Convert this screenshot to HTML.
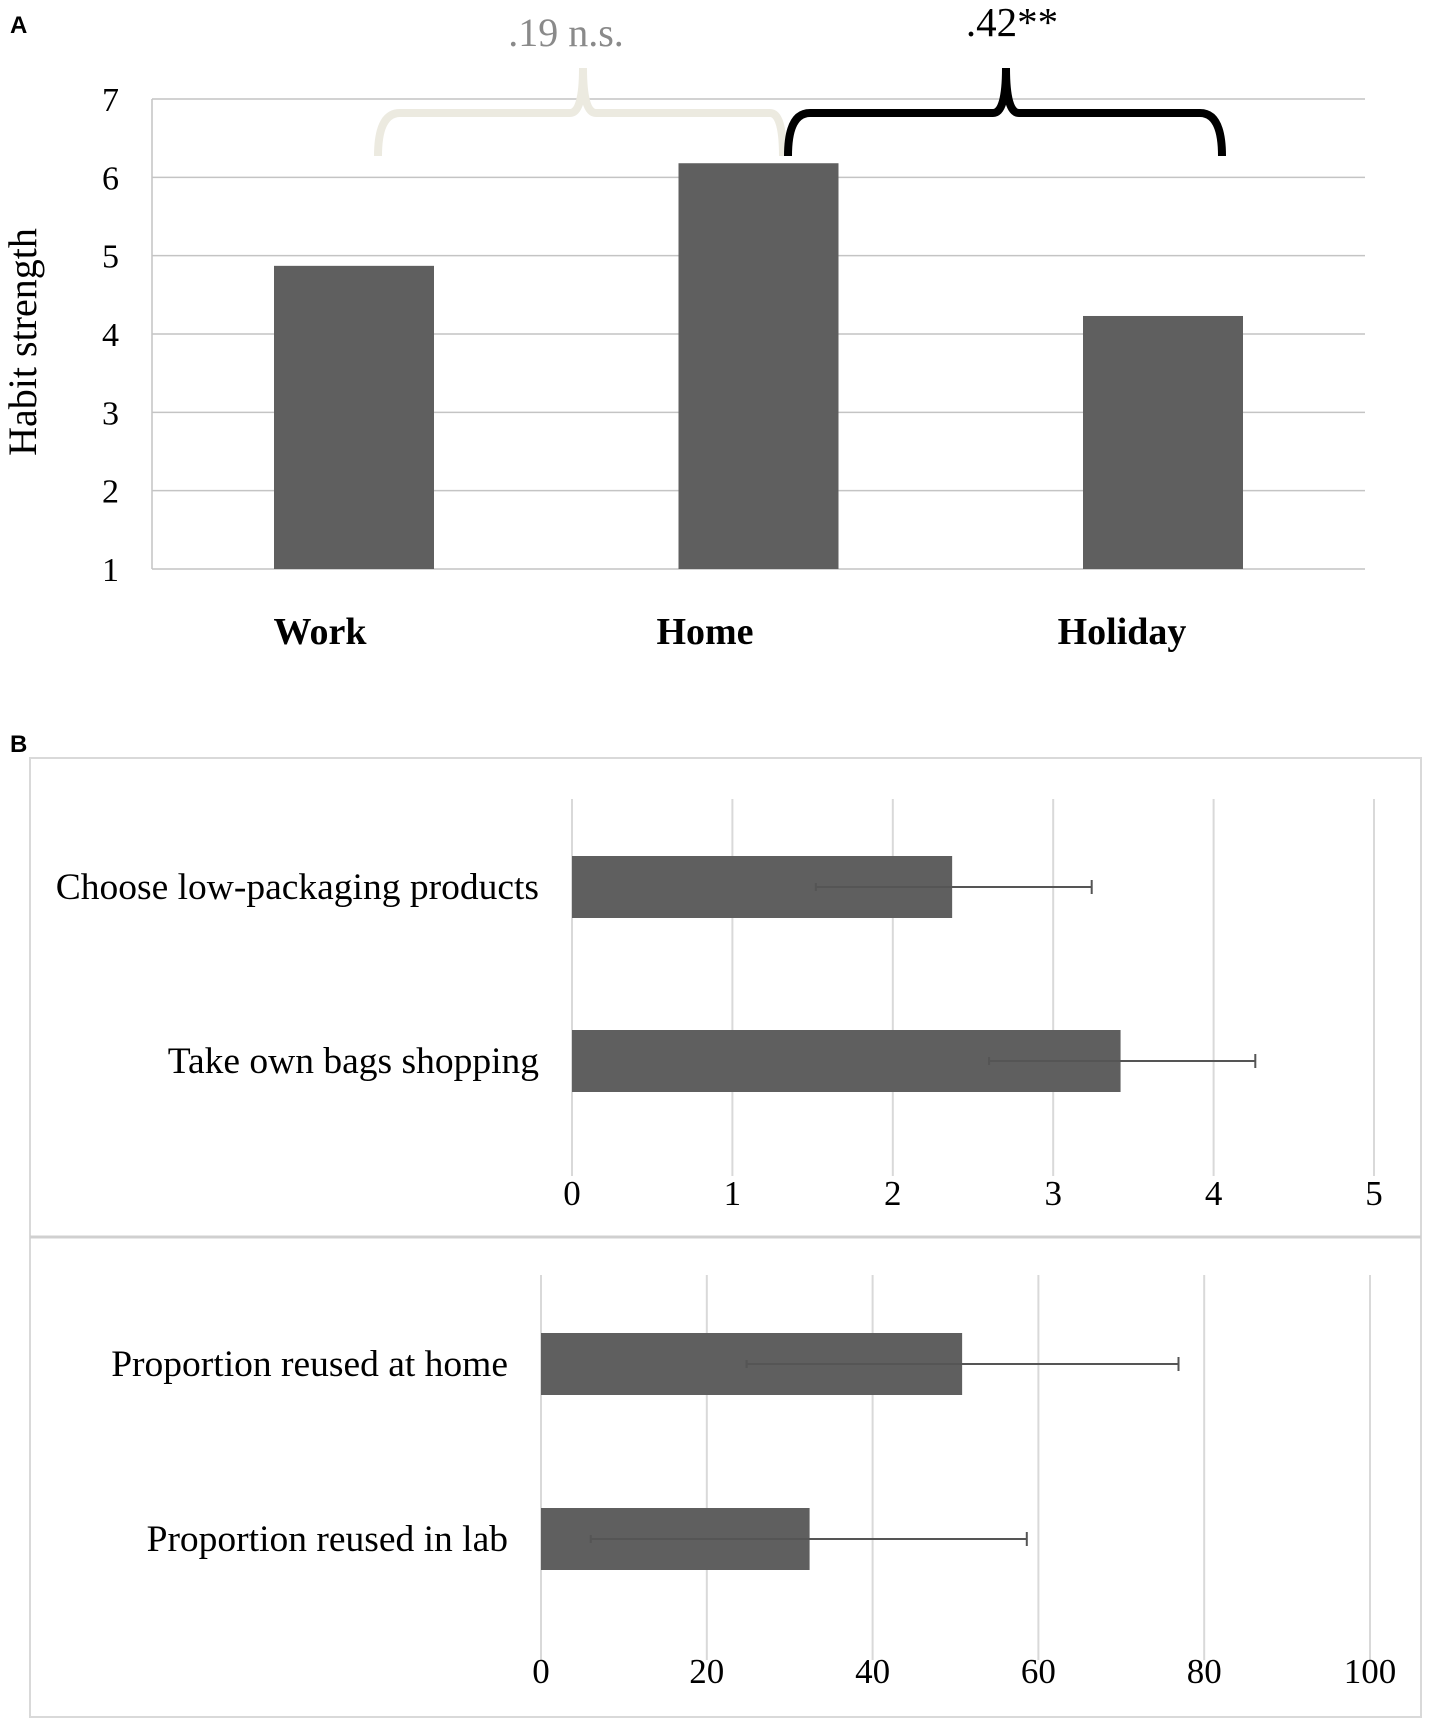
<!DOCTYPE html>
<html><head><meta charset="utf-8"><style>
body{margin:0;background:#fff}
svg{display:block}
text{font-family:"Liberation Serif",serif}
</style></head><body>
<svg id="s" width="1429" height="1723" viewBox="0 0 1429 1723">
<text x="10" y="33" font-weight="bold" font-size="24" style="font-family:'Liberation Sans',sans-serif">A</text>
<text x="10" y="752" font-size="24" font-weight="bold" style="font-family:'Liberation Sans',sans-serif">B</text>
<rect x="30" y="758" width="1391" height="959" fill="none" stroke="#d9d9d9" stroke-width="2"/>
<line x1="30" y1="1237" x2="1421" y2="1237" stroke="#d0d0d0" stroke-width="3"/>
<g id="ga"></g><g id="gb1"></g><g id="gb2"></g>
<path d="M378,156 Q378,113 400,113 L570,113 Q583,113 583,68 Q583,113 596,113 L770,113 Q783,113 783,156" fill="none" stroke="#eceae0" stroke-width="8"/>
<text x="566" y="46" text-anchor="middle" font-size="40" fill="#8a8a8a">.19 n.s.</text>
<path d="M788,156 Q788,113 810,113 L993,113 Q1006,113 1006,68 Q1006,113 1019,113 L1200,113 Q1222,113 1222,156" fill="none" stroke="#000" stroke-width="8"/>
<text x="1012" y="36" text-anchor="middle" font-size="41" fill="#000">.42**</text>
</svg>
<script>
const aCats=["Work","Home","Holiday"];
const aVals=[4.87,6.18,4.23];
const aTicks=[1,2,3,4,5,6,7];
const b1Cats=["Choose low-packaging products","Take own bags shopping"];
const b1Vals=[2.37,3.42];
const b1Lo=[1.52,2.6];
const b1Hi=[3.24,4.26];
const b1Ticks=[0,1,2,3,4,5];
const b2Cats=["Proportion reused at home","Proportion reused in lab"];
const b2Vals=[50.8,32.4];
const b2Lo=[24.8,6];
const b2Hi=[76.9,58.6];
const b2Ticks=[0,20,40,60,80,100];
const NS="http://www.w3.org/2000/svg";
function mk(p,t,a,txt){const e=document.createElementNS(NS,t);for(const k in a)e.setAttribute(k,a[k]);if(txt!==undefined)e.textContent=txt;p.appendChild(e);return e;}
// Panel A
const ga=document.getElementById('ga');
const ay=v=>569-(v-1)*(569-99)/6;
aTicks.forEach(t=>{
 const l=mk(ga,'line',{x1:152,x2:1365,y1:ay(t),y2:ay(t),stroke:'#c4c4c4','stroke-width':1.5});
 
 
 const tx=mk(ga,'text',{x:119,y:ay(t)+12,'text-anchor':'end','font-size':34},String(t));
 
 
});
const av=mk(ga,'line',{x1:152,x2:152,y1:99,y2:569,stroke:'#c4c4c4','stroke-width':1.5});


const yt=mk(ga,'text',{x:0,y:0,'text-anchor':'middle','font-size':40,transform:'translate(36,342) rotate(-90)'},'Habit strength');


const acx=i=>354+i*404.5;
const labCx=[320,705,1122];
aCats.forEach((c,i)=>{
 const r=mk(ga,'rect',{x:acx(i)-80,y:ay(aVals[i]),width:160,height:569-ay(aVals[i]),fill:'#5f5f5f'});
 
 
 const t=mk(ga,'text',{x:labCx[i],y:644,'text-anchor':'middle','font-size':38,'font-weight':'bold'},c);
 
 
});
// Panel B
function hbar(id,cats,vals,lo,hi,ticks,x0,x1,gy0,gy1,barYs,labX,tickY,max){
 const g=document.getElementById(id);
 const sx=v=>x0+v*(x1-x0)/max;
 ticks.forEach(t=>{
  const l=mk(g,'line',{x1:sx(t),x2:sx(t),y1:gy0,y2:gy1,stroke:'#d9d9d9','stroke-width':2});
  
  
  const tx=mk(g,'text',{x:sx(t),y:tickY+12,'text-anchor':'middle','font-size':35},String(t));
  
  
 });
 cats.forEach((c,i)=>{
  const by=barYs[i];
  const r=mk(g,'rect',{x:x0,y:by,width:sx(vals[i])-x0,height:62,fill:'#5f5f5f'});
  
  
  const cy=by+31;
  const e=mk(g,'path',{d:`M${sx(lo[i])},${cy}H${sx(hi[i])}M${sx(hi[i])},${cy-7}V${cy+7}M${sx(lo[i])},${cy-4}V${cy+4}`,stroke:'#555','stroke-width':2,fill:'none'});
  
  
  const t=mk(g,'text',{x:labX,y:cy+12,'text-anchor':'end','font-size':37.5},c);
  
  
 });
}
hbar('gb1',b1Cats,b1Vals,b1Lo,b1Hi,b1Ticks,572,1374,799,1176,[856,1030],539,1193,5);
hbar('gb2',b2Cats,b2Vals,b2Lo,b2Hi,b2Ticks,541,1370,1275,1660,[1333,1508],508,1671,100);
</script>
</body></html>
